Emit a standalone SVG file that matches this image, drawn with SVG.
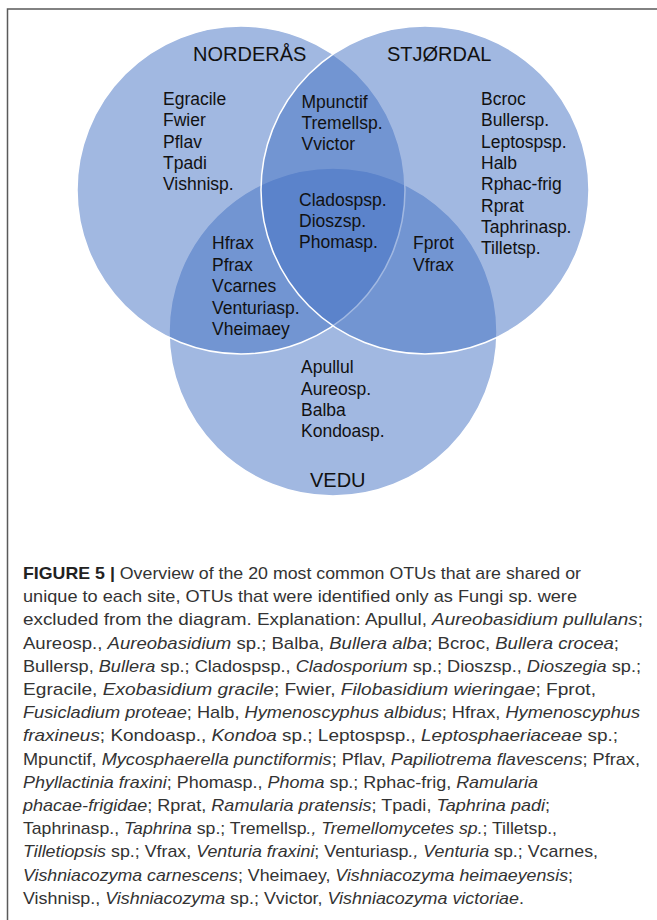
<svg xmlns="http://www.w3.org/2000/svg" width="657" height="920" viewBox="0 0 657 920">
<style>
.set{fill:#4472C4;fill-opacity:0.5;stroke:#ffffff;stroke-width:1.5}
.site{font-family:"Liberation Sans",Arial,sans-serif;font-size:20px;fill:#111}
.sp{font-family:"Liberation Sans",Arial,sans-serif;font-size:17.5px;fill:#111}
.cap{font-family:"Liberation Sans",Arial,sans-serif;font-size:17px;fill:#333}
.cap tspan.i{font-style:italic}
.cap tspan.b{font-weight:bold;fill:#222}
</style>
<rect x="0" y="0" width="657" height="920" fill="#ffffff"/>
<rect x="7.5" y="9" width="720" height="1000" fill="none" stroke="#5a5a5a" stroke-width="1.5"/>
<g id="vedu">
<circle class="set" cx="333" cy="332" r="164"/>
</g>
<g id="norderas">
<circle class="set" cx="241" cy="190" r="164"/>
</g>
<g id="stjordal">
<circle class="set" cx="425" cy="190" r="164"/>
</g>
<g id="connectors"></g>
<g id="labels">
<text class="site" x="193" y="61">NORDERÅS</text>
<text class="site" x="387" y="61">STJØRDAL</text>
<text class="site" x="310" y="487">VEDU</text>
</g>
<g id="norderas-only" class="sp">
<text x="163" y="105">Egracile</text>
<text x="163" y="126.3">Fwier</text>
<text x="163" y="147.6">Pflav</text>
<text x="163" y="169">Tpadi</text>
<text x="163" y="190.2">Vishnisp.</text>
</g>
<g id="norderas-stjordal" class="sp">
<text x="301.5" y="107.7">Mpunctif</text>
<text x="301.5" y="129">Tremellsp.</text>
<text x="301.5" y="150.3">Vvictor</text>
</g>
<g id="stjordal-only" class="sp">
<text x="481" y="105">Bcroc</text>
<text x="481" y="126.3">Bullersp.</text>
<text x="481" y="147.6">Leptospsp.</text>
<text x="481" y="169">Halb</text>
<text x="481" y="190.2">Rphac-frig</text>
<text x="481" y="211.5">Rprat</text>
<text x="481" y="232.8">Taphrinasp.</text>
<text x="481" y="254">Tilletsp.</text>
</g>
<g id="all-three" class="sp">
<text x="299" y="206">Cladospsp.</text>
<text x="299" y="227">Dioszsp.</text>
<text x="299" y="248.3">Phomasp.</text>
</g>
<g id="norderas-vedu" class="sp">
<text x="212" y="249">Hfrax</text>
<text x="212" y="270.5">Pfrax</text>
<text x="212" y="292">Vcarnes</text>
<text x="212" y="313.5">Venturiasp.</text>
<text x="212" y="335">Vheimaey</text>
</g>
<g id="stjordal-vedu" class="sp">
<text x="413" y="249">Fprot</text>
<text x="413" y="270.5">Vfrax</text>
</g>
<g id="vedu-only" class="sp">
<text x="301" y="373.3">Apullul</text>
<text x="301" y="394.5">Aureosp.</text>
<text x="301" y="416">Balba</text>
<text x="301" y="437.3">Kondoasp.</text>
</g>
<g id="caption" class="cap">
<text x="23" y="579" textLength="558" lengthAdjust="spacingAndGlyphs"><tspan class="b">FIGURE 5 |</tspan> Overview of the 20 most common OTUs that are shared or</text>
<text x="23" y="602.2" textLength="554" lengthAdjust="spacingAndGlyphs">unique to each site, OTUs that were identified only as Fungi sp. were</text>
<text x="23" y="625.4" textLength="620" lengthAdjust="spacingAndGlyphs">excluded from the diagram. Explanation: Apullul, <tspan class="i">Aureobasidium pullulans</tspan>;</text>
<text x="23" y="648.6" textLength="596" lengthAdjust="spacingAndGlyphs">Aureosp., <tspan class="i">Aureobasidium</tspan> sp.; Balba, <tspan class="i">Bullera alba</tspan>; Bcroc, <tspan class="i">Bullera crocea</tspan>;</text>
<text x="23" y="671.8" textLength="618" lengthAdjust="spacingAndGlyphs">Bullersp, <tspan class="i">Bullera</tspan> sp.; Cladospsp., <tspan class="i">Cladosporium</tspan> sp.; Dioszsp., <tspan class="i">Dioszegia</tspan> sp.;</text>
<text x="23" y="695" textLength="573" lengthAdjust="spacingAndGlyphs">Egracile, <tspan class="i">Exobasidium gracile</tspan>; Fwier, <tspan class="i">Filobasidium wieringae</tspan>; Fprot,</text>
<text x="23" y="718.2" textLength="617" lengthAdjust="spacingAndGlyphs"><tspan class="i">Fusicladium proteae</tspan>; Halb, <tspan class="i">Hymenoscyphus albidus</tspan>; Hfrax, <tspan class="i">Hymenoscyphus</tspan></text>
<text x="23" y="741.4" textLength="595" lengthAdjust="spacingAndGlyphs"><tspan class="i">fraxineus</tspan>; Kondoasp., <tspan class="i">Kondoa</tspan> sp.; Leptospsp., <tspan class="i">Leptosphaeriaceae</tspan> sp.;</text>
<text x="23" y="764.6" textLength="617" lengthAdjust="spacingAndGlyphs">Mpunctif, <tspan class="i">Mycosphaerella punctiformis</tspan>; Pflav, <tspan class="i">Papiliotrema flavescens</tspan>; Pfrax,</text>
<text x="23" y="787.8" textLength="515" lengthAdjust="spacingAndGlyphs"><tspan class="i">Phyllactinia fraxini</tspan>; Phomasp., <tspan class="i">Phoma</tspan> sp.; Rphac-frig, <tspan class="i">Ramularia</tspan></text>
<text x="23" y="811" textLength="527" lengthAdjust="spacingAndGlyphs"><tspan class="i">phacae-frigidae</tspan>; Rprat, <tspan class="i">Ramularia pratensis</tspan>; Tpadi, <tspan class="i">Taphrina padi</tspan>;</text>
<text x="23" y="834.2" textLength="534" lengthAdjust="spacingAndGlyphs">Taphrinasp., <tspan class="i">Taphrina</tspan> sp.; Tremellsp<tspan class="i">., Tremellomycetes sp.</tspan>; Tilletsp.,</text>
<text x="23" y="857.4" textLength="575" lengthAdjust="spacingAndGlyphs"><tspan class="i">Tilletiopsis</tspan> sp.; Vfrax, <tspan class="i">Venturia fraxini</tspan>; Venturiasp<tspan class="i">., Venturia</tspan> sp.; Vcarnes,</text>
<text x="23" y="880.6" textLength="550" lengthAdjust="spacingAndGlyphs"><tspan class="i">Vishniacozyma carnescens</tspan>; Vheimaey, <tspan class="i">Vishniacozyma heimaeyensis</tspan>;</text>
<text x="23" y="903.8" textLength="501" lengthAdjust="spacingAndGlyphs">Vishnisp., <tspan class="i">Vishniacozyma</tspan> sp.; Vvictor, <tspan class="i">Vishniacozyma victoriae</tspan>.</text>
</g>
</svg>
